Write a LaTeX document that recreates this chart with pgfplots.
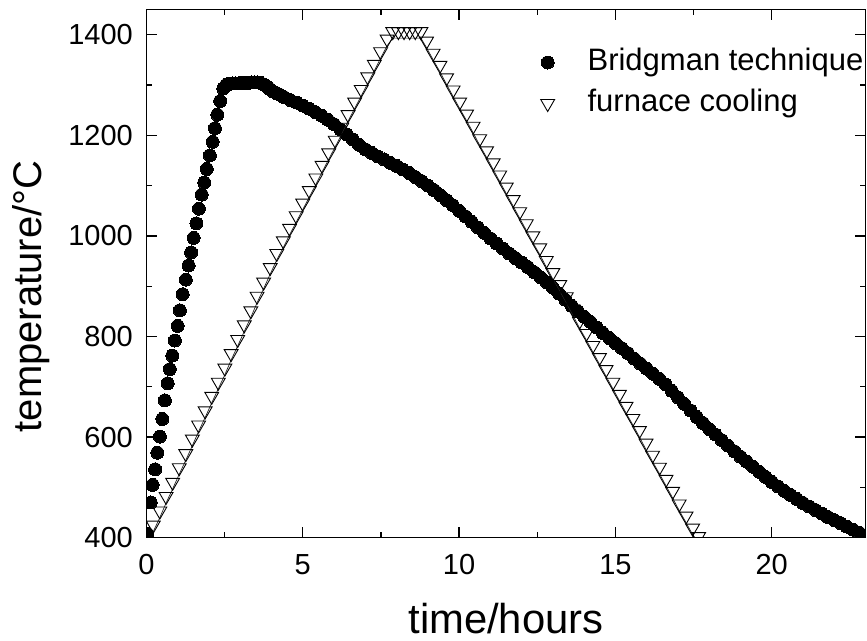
\documentclass[border=0pt]{standalone}
\usepackage{fontspec}
\setmainfont{Liberation Sans}
\usepackage{pgfplots}
\usepackage{pgfplotstable}
\pgfplotsset{compat=1.18}

\pgfplotstableread{
x y
0.03 408
0.14 470
0.20 505
0.28 536
0.35 569
0.43 601
0.51 636
0.59 673
0.68 707
0.75 735
0.83 762
0.91 792
1.00 821
1.07 852
1.16 884
1.26 913
1.35 941
1.43 967
1.51 996
1.60 1025
1.68 1054
1.77 1082
1.85 1106
1.93 1133
2.03 1160
2.12 1187
2.19 1214
2.27 1241
2.36 1268
2.46 1293
2.55 1300
2.65 1302
2.75 1303
2.85 1303
2.95 1303
3.05 1304
3.15 1304
3.25 1304
3.35 1305
3.45 1305
3.55 1305
3.65 1304
3.75 1301
3.85 1297
3.95 1292
4.05 1287
4.15 1284
4.25 1281
4.4 1276
4.6 1270
4.8 1265
5.0 1259
5.2 1253
5.4 1246
5.6 1239
5.8 1231
6.0 1222
6.2 1212
6.4 1202
6.6 1192
6.8 1181
7.0 1172
7.2 1165
7.4 1158
7.6 1152
7.8 1145
8.0 1139
8.2 1132
8.4 1125
8.6 1117
8.8 1109
9.0 1100
9.2 1091
9.4 1081
9.6 1071
9.8 1061
10.0 1050
10.2 1039
10.4 1028
10.6 1017
10.8 1006
11.0 995
11.2 985
11.4 975
11.6 965
11.8 956
12.0 947
12.2 938
12.4 928
12.6 918
12.8 908
13.0 897
13.2 885
13.4 873
13.6 861
13.8 850
14.0 839
14.2 829
14.4 818
14.6 807
14.8 797
15.0 787
15.2 777
15.4 767
15.6 756
15.8 746
16.0 736
16.2 726
16.4 716
16.6 705
16.8 692
17.0 679
17.2 666
17.4 653
17.6 640
17.8 628
18.0 616
18.2 605
18.4 594
18.6 583
18.8 572
19.0 561
19.2 551
19.4 541
19.6 531
19.8 521
20.0 511
20.2 502
20.4 493
20.6 485
20.8 477
21.0 469
21.2 462
21.4 455
21.6 448
21.8 441
22.0 435
22.2 429
22.4 422
22.6 416
22.8 410
23.0 404
}\bridgman

\pgfplotstableread{
x y
0.22 425
0.43 453
0.63 482
0.84 510
1.05 539
1.26 567
1.47 596
1.67 624
1.88 652
2.09 681
2.30 709
2.51 737
2.71 766
2.92 794
3.13 823
3.34 851
3.54 880
3.75 908
3.96 937
4.17 965
4.38 990
4.58 1015
4.79 1040
5.00 1065
5.21 1090
5.42 1115
5.62 1140
5.83 1165
6.04 1190
6.25 1216
6.45 1241
6.66 1266
6.87 1291
7.08 1316
7.29 1341
7.49 1366
7.70 1391
7.88 1406
8.06 1406
8.24 1406
8.42 1406
8.60 1406
8.78 1406
8.96 1387
9.17 1363
9.39 1339
9.60 1314
9.81 1290
10.02 1266
10.24 1242
10.45 1218
10.66 1193
10.88 1169
11.09 1145
11.30 1121
11.51 1097
11.73 1072
11.94 1048
12.15 1024
12.36 1000
12.58 976
12.79 951
13.00 927
13.22 903
13.43 879
13.64 855
13.85 830
14.07 806
14.28 782
14.49 758
14.70 734
14.92 709
15.13 685
15.34 661
15.56 637
15.77 613
15.98 588
16.19 564
16.41 540
16.62 516
16.83 492
17.04 467
17.26 443
17.47 419
17.66 402
}\furnace

\begin{document}
\begin{tikzpicture}
\useasboundingbox (-146.4bp,-103.3bp) rectangle (720.6bp,537.7bp);
\begin{axis}[
  at={(0,0)}, anchor=south west,
  scale only axis, width=719.1bp, height=528.2bp,
  xmin=0, xmax=23, ymin=400, ymax=1450,
  xtick={0,5,10,15,20}, ytick={400,600,800,1000,1200,1400},
  minor x tick num=1, minor y tick num=1,
  tick align=inside, tick pos=both, ticklabel pos=left,
  major tick length=11bp, minor tick length=5.5bp,
  axis line style={line width=1.3bp},
  every tick/.append style={black, line width=1.3bp},
  /pgf/number format/assume math mode=true,
  /pgf/number format/1000 sep={},
  tick label style={font=\fontsize{29bp}{34bp}\selectfont, inner sep=0pt},
  xticklabel style={yshift=-16.3bp},
  yticklabel style={xshift=-13.4bp},
  xlabel={time/hours}, ylabel={temperature/°C},
  every axis x label/.style={at={(axis description cs:0.5,0)}, anchor=base, yshift=-96bp, inner sep=0pt, text depth=0pt, font=\fontsize{41.8bp}{48bp}\selectfont},
  every axis y label/.style={at={(axis description cs:0,0.4567)}, xshift=-104.8bp, rotate=90, anchor=base, inner sep=0pt, font=\fontsize{40bp}{46bp}\selectfont},
  clip marker paths=true,
  legend image code/.code={\draw[#1] plot coordinates {(0bp,0bp)};},
  legend style={draw=none, fill=none, inner sep=0pt, outer sep=0pt,
    at={(rel axis cs:0.5484,0.928)}, anchor=north west,
    cells={anchor=west}, row sep=11bp,
    nodes={inner sep=0pt, text height=23bp, text depth=7bp},
    font=\fontsize{31bp}{36bp}\selectfont,
    /tikz/every odd column/.append style={column sep=33bp}},
]
\addplot[only marks, mark=*, mark size=6.5bp, mark options={fill=black, draw=black, line width=0pt}] table {\bridgman};
\addlegendentry{Bridgman technique}
\addplot[black!85, line width=0.7bp, yshift=-6.5bp, forget plot] table {\furnace};
\addplot[only marks, mark=triangle, mark size=8bp, mark options={rotate=180, draw=black, fill=none, line width=0.9bp}] table {\furnace};
\addlegendentry{furnace cooling}
\end{axis}
\end{tikzpicture}
\end{document}
